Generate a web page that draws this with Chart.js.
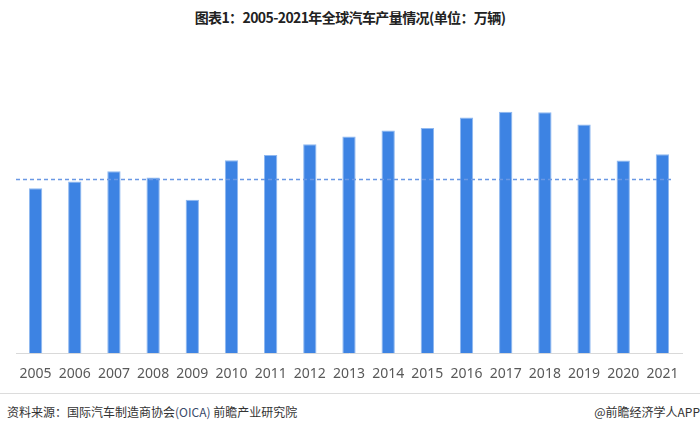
<!DOCTYPE html>
<html>
<head>
<meta charset="utf-8">
<script src="https://cdn.jsdelivr.net/npm/chart.js@4"></script>
<style>
  html, body { margin: 0; padding: 0; background: #fff; }
  body { width: 700px; height: 431px; position: relative; overflow: hidden;
         font-family: "Noto Sans CJK SC", "Noto Sans", sans-serif; }
  #title { position: absolute; top: 7px; left: 0; width: 700px; text-align: center;
           font-size: 14px; font-weight: bold; color: #222; letter-spacing: -0.6px; }
  #wrap { position: absolute; left: 0; top: 0; width: 700px; height: 394px; }
  #sep { position: absolute; left: 0; top: 393px; width: 700px; height: 1px; background: #dcdcdc; }
  #source { position: absolute; left: 7px; top: 403px; font-size: 12px; color: #333; }
  #source .en { color: #3a4a6a; }
  #brand { position: absolute; right: 0; top: 403px; font-size: 12px; color: #333; }
</style>
</head>
<body>
<div id="title">图表1：2005-2021年全球汽车产量情况(单位：万辆)</div>
<div id="wrap"><canvas id="chart"></canvas></div>
<div id="sep"></div>
<div id="source">资料来源：国际汽车制造商协会<span class="en">(OICA)</span> 前瞻产业研究院</div>
<div id="brand">@前瞻经济学人APP</div>
<script>
const years = ['2005', '2006', '2007', '2008', '2009', '2010', '2011', '2012', '2013',
               '2014', '2015', '2016', '2017', '2018', '2019', '2020', '2021'];
const production = [6648, 6922, 7327, 7074, 6179, 7776, 7989, 8414, 8730,
                    8975, 9078, 9498, 9730, 9705, 9214, 7762, 8015];
const refValue = 7000;

// dashed reference line across the plot
const refLinePlugin = {
    id: 'refLine',
    afterDatasetsDraw(chart) {
        const { ctx, chartArea, scales } = chart;
        const y = Math.round(scales.y.getPixelForValue(refValue)) + 0.5;
        ctx.save();
        ctx.strokeStyle = '#6a98e4';
        ctx.lineWidth = 1.3;
        ctx.setLineDash([4, 3]);
        ctx.beginPath();
        ctx.moveTo(chartArea.left, y);
        ctx.lineTo(chartArea.right - 8, y);
        ctx.stroke();
        ctx.restore();
    }
};

new Chart(document.getElementById('chart'), {
    type: 'bar',
    data: {
        labels: years,
        datasets: [{
            data: production,
            backgroundColor: '#3d83e3',
            borderColor: '#8fb8f0',
            borderWidth: 1,
            barPercentage: 0.34,
            categoryPercentage: 1
        }]
    },
    options: {
        responsive: true,
        maintainAspectRatio: false,
        animation: false,
        layout: { padding: { left: 16, right: 18, top: 105, bottom: 0 } },
        plugins: {
            legend: { display: false },
            tooltip: { enabled: false }
        },
        scales: {
            x: {
                grid: { display: false, drawTicks: false },
                border: { display: true, color: '#d9d9d9', width: 1 },
                ticks: {
                    color: '#595959',
                    padding: 12,
                    maxRotation: 0,
                    autoSkip: false,
                    font: { family: '"Noto Sans", sans-serif', size: 14 }
                }
            },
            y: {
                display: false,
                min: 0,
                max: 10000
            }
        }
    },
    plugins: [refLinePlugin]
});
</script>
</body>
</html>
